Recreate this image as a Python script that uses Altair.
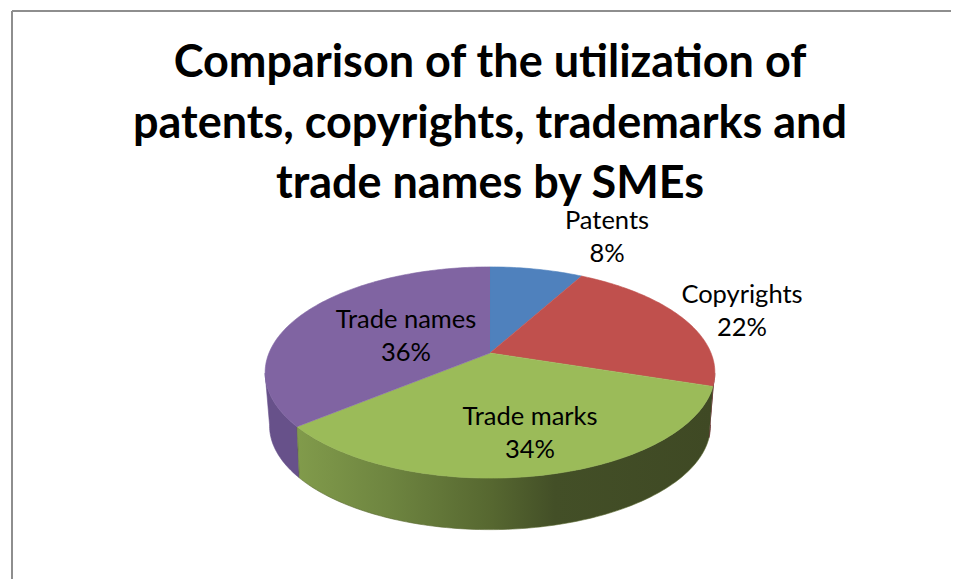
import math
import altair as alt
import pandas as pd

categories = ["Patents", "Copyrights", "Trade marks", "Trade names"]
shares = [8, 22, 34, 36]
title_lines = ["Comparison of the utilization of",
               "patents, copyrights, trademarks and",
               "trade names by SMEs"]
colors = ["#4F81BD", "#C0504D", "#9BBB59", "#8064A2"]
label_x = [607, 742, 530, 406]
label_y = [221, 295, 417, 320]

W, H = 943, 571
CX, CY = 490, 353


def project(t_deg, a, s, k, dy):
    t = math.radians(t_deg)
    u, v = math.sin(t), -math.cos(t)
    d = 1 - k * v
    return CX + a * u / d, CY + dy + s * v / d


def top(t):
    return project(t, 221, 102, 0.1847, 0)


def bottom(t):
    return project(t, 216, 99.7, 0.2, 52)


def arc(a, b, f):
    n = max(2, int(abs(b - a)) + 1)
    return [f(a + (b - a) * i / (n - 1)) for i in range(n)]


rows = []


def add(shape, pts):
    for i, (x, y) in enumerate(pts):
        rows.append({"shape": shape, "x": x, "y": y, "i": i})


edges = [0]
for s in shares:
    edges.append(edges[-1] + s * 3.6)

for j, c in enumerate(categories):
    add("face " + c, [(CX, CY)] + arc(edges[j], edges[j + 1], top))

add("rim Copyrights", arc(101, edges[2], top) + arc(edges[2], 101, bottom))
add("rim Trade marks", arc(edges[2], edges[3], top) + arc(edges[3], edges[2], bottom))
add("rim Trade names", arc(edges[3], 259, top) + arc(259, edges[3], bottom))

df = pd.DataFrame(rows)
labels = pd.DataFrame({
    "label": [f"{c}\n{s}%" for c, s in zip(categories, shares)],
    "x": label_x,
    "y": label_y,
})

X = alt.X("x:Q", axis=None, scale=alt.Scale(domain=[8, 8 + W], zero=False, nice=False))
Y = alt.Y("y:Q", axis=None, scale=alt.Scale(domain=[8 + H, 8], zero=False, nice=False))


def poly(shape, fill, stroke):
    return (
        alt.Chart(df)
        .transform_filter(alt.datum.shape == shape)
        .mark_line(fill=fill, stroke=stroke, strokeWidth=0.6, interpolate="linear")
        .encode(x=X, y=Y, order="i:Q")
    )


green_rim = {
    "gradient": "linear", "x1": 0, "x2": 1, "y1": 0, "y2": 0,
    "stops": [
        {"offset": 0, "color": "#819B4B"},
        {"offset": 0.22, "color": "#6E8540"},
        {"offset": 0.47, "color": "#566730"},
        {"offset": 0.62, "color": "#434F27"},
        {"offset": 1, "color": "#3F4924"},
    ],
}

layers = [
    poly("rim Trade names", "#67518A", "#67518A"),
    poly("rim Copyrights", "#5E2725", "#5E2725"),
    poly("rim Trade marks", green_rim, "#5A6A33"),
]
layers += [poly("face " + c, col, col) for c, col in zip(categories, colors)]
layers.append(
    alt.Chart(labels)
    .mark_text(font="Lato", fontSize=25.5, color="#000000", lineBreak="\n", lineHeight=33, align="center", baseline="middle")
    .encode(x=X, y=Y, text="label:N")
)
layers.append(
    alt.Chart(labels).mark_rule(color="#8E8E8E", strokeWidth=2)
    .encode(x=alt.value(4), y=alt.value(3), y2=alt.value(H))
)
layers.append(
    alt.Chart(labels).mark_rule(color="#8E8E8E", strokeWidth=2)
    .encode(x=alt.value(4), x2=alt.value(W), y=alt.value(3))
)

chart = (
    alt.layer(*layers)
    .properties(
        width=W, height=H, padding=0,
        autosize=alt.AutoSizeParams(type="none", contains="content"),
        title=alt.TitleParams(
            text=title_lines, font="Lato", fontSize=45, fontWeight="bold",
            color="#000000", lineHeight=60.5, anchor="middle", dx=10.5,
            offset=-244, baseline="bottom",
        ),
    )
    .configure_view(stroke=None)
)
chart.save("out.html", embed_options={"renderer": "svg", "actions": False})
